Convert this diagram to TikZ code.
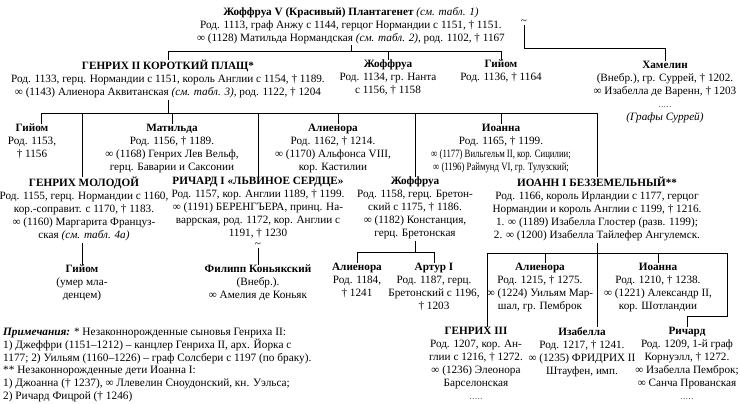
\documentclass[tikz,border=0pt]{standalone}
\usepackage{fontspec}
\setmainfont{Liberation Serif}
\usepackage{graphicx}
\newcommand{\narrowtxt}[1]{\scalebox{0.78}[1]{#1}}
\newcommand{\smalldots}{{\fontsize{8}{13}\selectfont .\kern0.7pt.\kern0.7pt.\kern0.7pt.\kern0.7pt.}}
\begin{document}
\begin{tikzpicture}[x=1pt,y=-1pt,
  person/.style={align=center, inner sep=0pt, anchor=north, font=\fontsize{11.2}{13}\selectfont, execute at begin node=\strut},
  link/.style={line width=0.9pt},
  tld/.style={inner sep=0pt, font=\fontsize{11.2}{13}\selectfont}]
\useasboundingbox (0,0) rectangle (740,404);

% generation 1
\node[person] (geoffV) at (351,7) {{\bfseries Жоффруа V (Красивый) Плантагенет} {\itshape (см. табл. 1)}\\Род. 1113, граф Анжу с 1144, герцог Нормандии с 1151, † 1151.\\∞ (1128) Матильда Нормандская {\itshape (см. табл. 2)}, род. 1102, † 1167};
\node[tld] (tilde1) at (524,22) {\textasciitilde};
\node[person] (hamelin) at (665,61) {{\bfseries Хамелин}\\(Внебр.), гр. Суррей, † 1202.\\∞ Изабелла де Варенн, † 1203\\\smalldots\\{\itshape (Графы Суррей)}};

% generation 2
\node[person] (henry2) at (168,60) {{\bfseries ГЕНРИХ II КОРОТКИЙ ПЛАЩ*}\\Род. 1133, герц. Нормандии с 1151, король Англии с 1154, † 1189.\\∞ (1143) Алиенора Аквитанская {\itshape (см. табл. 3)}, род. 1122, † 1204};
\node[person] (geoffN) at (388,60) {{\bfseries Жоффруа}\\Род. 1134, гр. Нанта\\с 1156, † 1158};
\node[person] (guil1) at (501,60) {{\bfseries Гийом}\\Род. 1136, † 1164};

% generation 3
\node[person] (guil2) at (32,124) {{\bfseries Гийом}\\Род. 1153,\\† 1156};
\node[person] (matilda) at (172,124) {{\bfseries Матильда}\\Род. 1156, † 1189.\\∞ (1168) Генрих Лев Вельф,\\герц. Баварии и Саксонии};
\node[person] (alien1) at (333,124) {{\bfseries Алиенора}\\Род. 1162, † 1214.\\∞ (1170) Альфонса VIII,\\кор. Кастилии};
\node[person] (joanna1) at (501,124) {{\bfseries Иоанна}\\Род. 1165, † 1199.\\\narrowtxt{∞ (1177) Вильгельм II, кор. Сицилии;}\\\narrowtxt{∞ (1196) Раймунд VI, гр. Тулузский;}};

\node[person] (henryY) at (84,177) {{\bfseries ГЕНРИХ МОЛОДОЙ}\\Род. 1155, герц. Нормандии с 1160,\\кор.-соправит. с 1170, † 1183.\\∞ (1160) Маргарита Француз-\\ская {\itshape (см. табл. 4а)}};
\node[person] (richard1) at (258,177) {{\bfseries РИЧАРД I «ЛЬВИНОЕ СЕРДЦЕ»}\\Род. 1157, кор. Англии 1189, † 1199.\\∞ (1191) БЕРЕНГЪЕРА, принц. На-\\варрская, род. 1172, кор. Англии с\\1191, † 1230};
\node[person] (geoffB) at (415,177) {{\bfseries Жоффруа}\\Род. 1158, герц. Бретон-\\ский с 1175, † 1186.\\∞ (1182) Констанция,\\герц. Бретонская};
\node[person] (john) at (597,177) {{\bfseries ИОАНН I БЕЗЗЕМЕЛЬНЫЙ**}\\Род. 1166, король Ирландии с 1177, герцог\\Нормандии и король Англии с 1199, † 1216.\\1. ∞ (1189) Изабелла Глостер (разв. 1199);\\2. ∞ (1200) Изабелла Тайлефер Ангулемск.};

% generation 4
\node[person] (guil3) at (82,265) {{\bfseries Гийом}\\(умер мла-\\денцем)};
\node[tld] (tilde2) at (258,245) {\textasciitilde};
\node[person] (philip) at (258,265) {{\bfseries Филипп Коньякский}\\(Внебр.).\\∞ Амелия де Коньяк};
\node[person] (alien2) at (357,263) {{\bfseries Алиенора}\\Род. 1184,\\† 1241};
\node[person] (arthur) at (434,263) {{\bfseries Артур I}\\Род. 1187, герц.\\Бретонский с 1196,\\† 1203};
\node[person] (alien3) at (540,263) {{\bfseries Алиенора}\\Род. 1215, † 1275.\\∞ (1224) Уильям Мар-\\шал, гр. Пемброк};
\node[person] (joanna2) at (658,263) {{\bfseries Иоанна}\\Род. 1210, † 1238.\\∞ (1221) Александр II,\\кор. Шотландии};
\node[person] (henry3) at (476,327) {{\bfseries ГЕНРИХ III}\\Род. 1207, кор. Ан-\\глии с 1216, † 1272.\\∞ (1236) Элеонора\\Барселонская\\\smalldots};
\node[person] (isabella) at (582,327) {{\bfseries Изабелла}\\Род. 1217, † 1241.\\∞ (1235) ФРИДРИХ II\\Штауфен, имп.};
\node[person] (richardC) at (687,327) {{\bfseries Ричард}\\Род. 1209, 1-й граф\\Корнуэлл, † 1272.\\∞ Изабелла Пемброк;\\∞ Санча Прованская\\\smalldots};

% notes
\node[person, anchor=north west, align=left, font=\fontsize{11.3}{12.7}\selectfont] (notes) at (3,328) {{\bfseries\itshape Примечания:} * Незаконнорожденные сыновья Генриха II:\\1) Джеффри (1151–1212) – канцлер Генриха II, арх. Йорка с\\1177; 2) Уильям (1160–1226) – граф Солсбери с 1197 (по браку).\\** Незаконнорожденные дети Иоанна I:\\1) Джоанна († 1237), ∞ Ллевелин Сноудонский, кн. Уэльса;\\2) Ричард Фицрой († 1246)};

% connectors: generation 2
\coordinate (bar1) at (0,51);
\draw[link] (geoffV.south) -- (geoffV.south |- bar1);
\draw[link] (henry2.north |- bar1) -- (guil1.north |- bar1);
\draw[link] (henry2.north |- bar1) -- (henry2.north);
\draw[link] (geoffN.north |- bar1) -- (geoffN.north);
\draw[link] (guil1.north |- bar1) -- (guil1.north);
\coordinate (hj) at (665,48);
\draw[link] (tilde1.south) |- (hj) -- (hamelin.north);

% connectors: children of Henry II
\coordinate (bar2) at (0,113);
\coordinate (b2l) at (41,113);
\coordinate (b2r) at (597,113);
\coordinate (a1x) at (338,113);
\draw[link] (henry2.south) -- (henry2.south |- bar2);
\draw[link] (b2l) -- (b2r);
\draw[link] (b2l) -- (b2l |- guil2.north);
\draw[link] (guil3.north |- bar2) -- (guil3.north |- henryY.north);
\draw[link] (matilda.north |- bar2) -- (matilda.north);
\draw[link] (richard1.north |- bar2) -- (richard1.north);
\draw[link] (a1x) -- (a1x |- alien1.north);
\draw[link] (geoffB.north |- bar2) -- (geoffB.north);
\draw[link] (joanna1.north |- bar2) -- (joanna1.north);
\draw[link] (b2r) -- (john.north);

% next generation
\draw[link] (guil3.north |- henryY.south) -- (guil3.north);
\draw[link] (tilde2.south) -- (philip.north);
\coordinate (bar3) at (0,252);
\draw[link] (geoffB.south) -- (geoffB.south |- bar3);
\draw[link] (alien2.north |- bar3) -- (arthur.north |- bar3);
\draw[link] (alien2.north |- bar3) -- (alien2.north);
\draw[link] (arthur.north |- bar3) -- (arthur.north);

\coordinate (bar4) at (0,253);
\coordinate (jl) at (487,253);
\coordinate (jr) at (727,253);
\coordinate (ja) at (545,253);
\coordinate (rk) at (727,316);
\draw[link] (john.south) -- (john.south |- bar4);
\draw[link] (jl) -- (jr);
\draw[link] (jl) -- (jl |- henry3.north);
\draw[link] (ja) -- (ja |- alien3.north);
\draw[link] (john.south |- bar4) -- (john.south |- isabella.north);
\draw[link] (joanna2.north |- bar4) -- (joanna2.north);
\draw[link] (jr) -- (rk) -| (richardC.north);
\end{tikzpicture}
\end{document}
